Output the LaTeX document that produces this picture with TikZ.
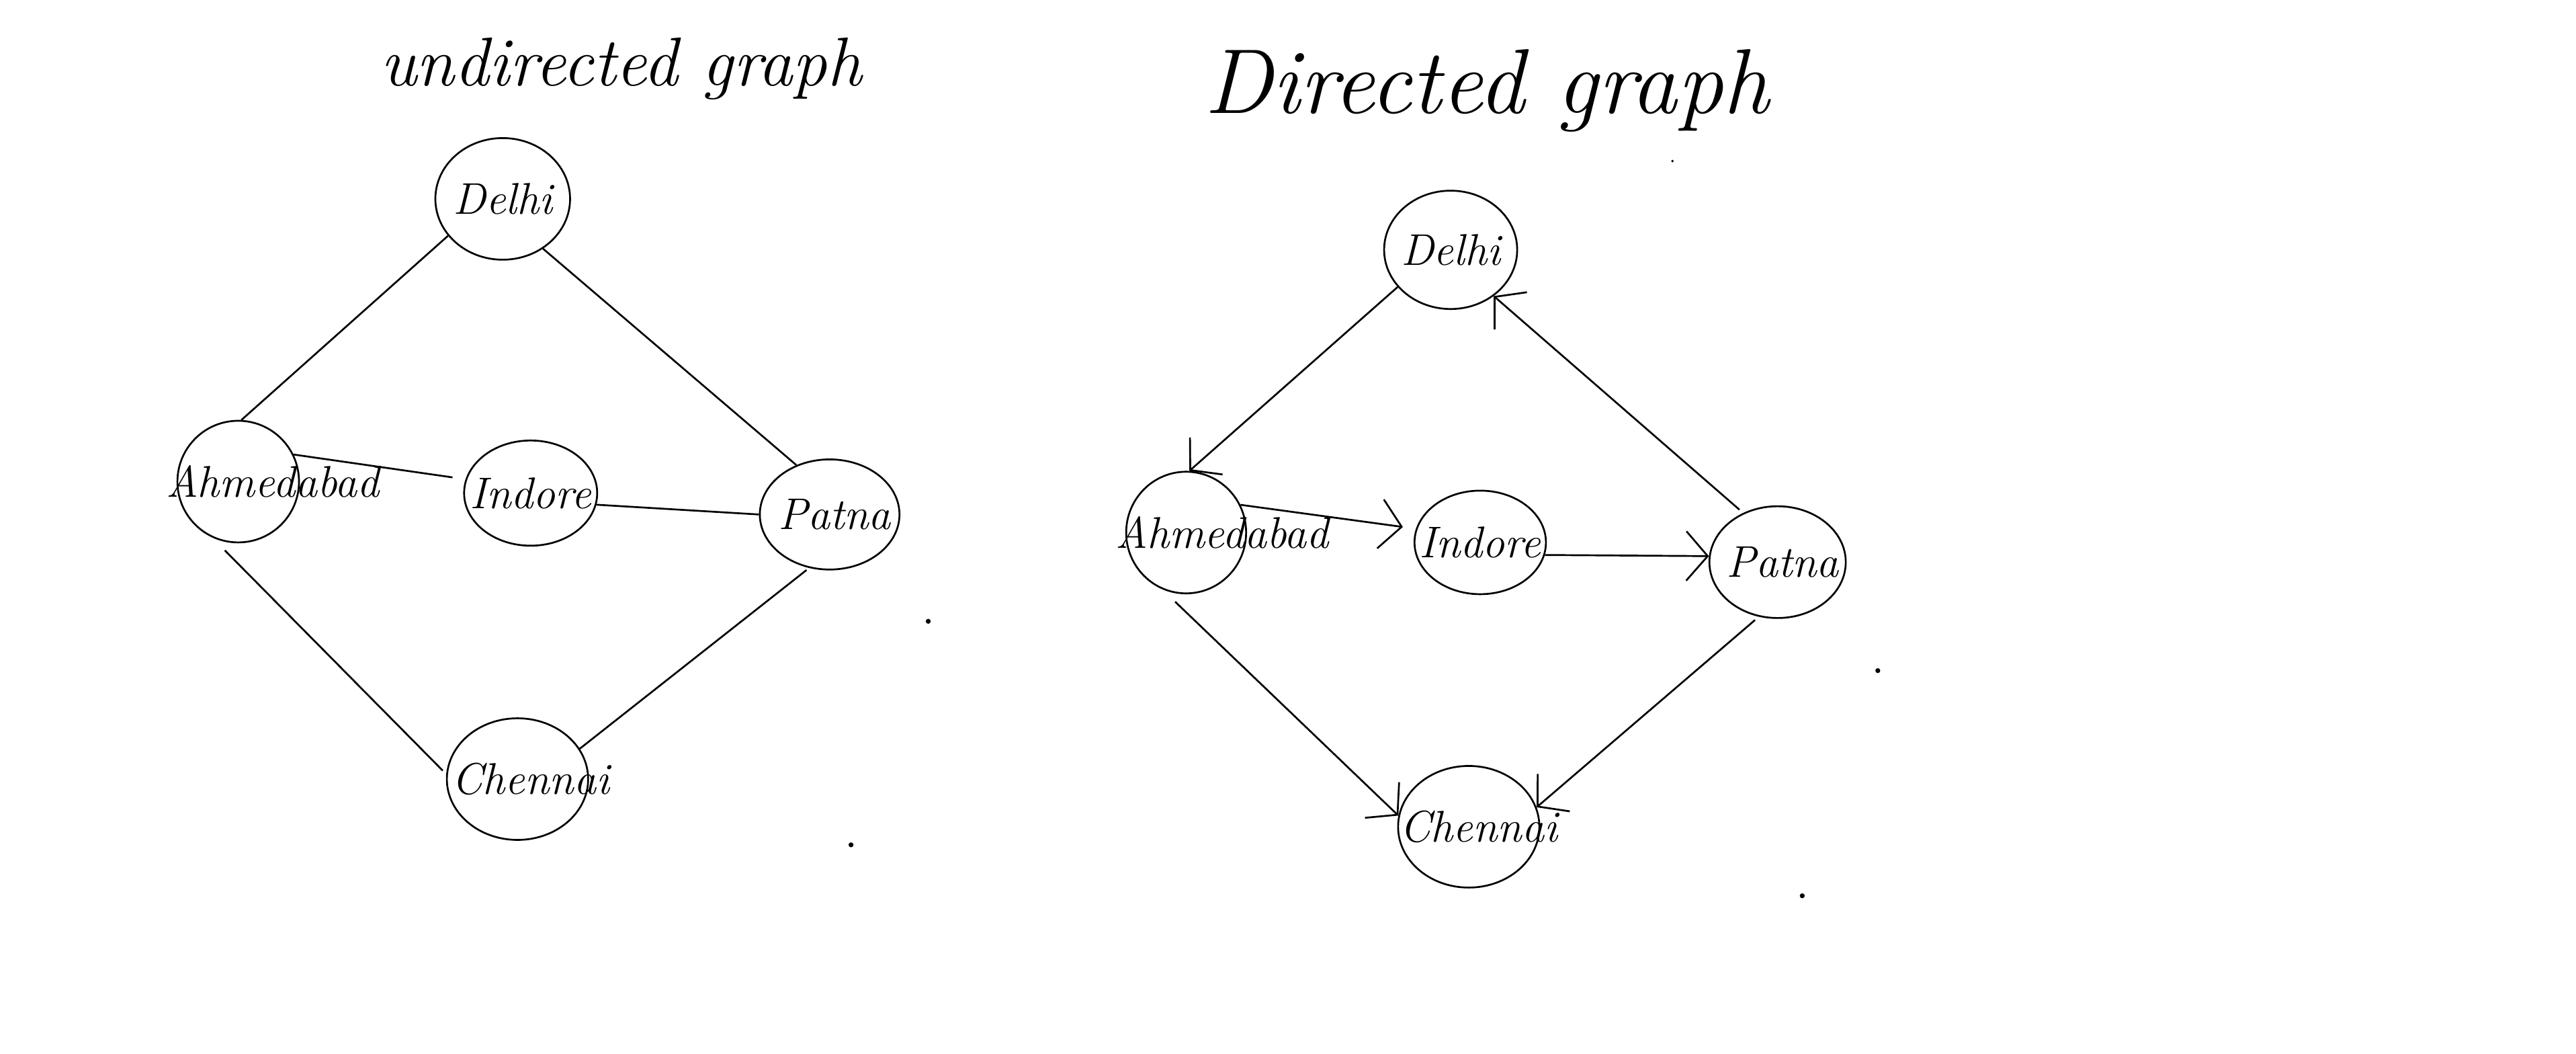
\documentclass[tikz,border=0pt]{standalone}
\usetikzlibrary{shapes.geometric,arrows.meta}
\begin{document}
\begin{tikzpicture}[x=1pt,y=-1pt,
  city/.style={draw, ellipse, line width=1.1pt, inner sep=0pt},
  lbl/.style={font=\fontsize{27}{30}\selectfont\itshape, inner sep=0pt},
  edge/.style={line width=1.1pt},
  arr/.style={line width=1.1pt, -{Straight Barb[length=13pt,width=30pt,line width=1.1pt]}},
  ttl/.style={inner sep=0pt}]
\fill[white] (0,0) rectangle (1568,641);
\useasboundingbox (0,0) rectangle (1568,641);

% titles
\node[ttl, font=\fontsize{42}{48}\selectfont\itshape] (t1) at (378,42) {undirected graph};
\node[ttl, font=\fontsize{56}{62}\selectfont\itshape] (t2) at (905,55) {Directed graph};

% undirected graph
\node[city, minimum width=82, minimum height=74, label={[lbl]center:Delhi}] (d1) at (306,121) {};
\node[city, minimum width=74, minimum height=74, label={[lbl, xshift=21pt]center:Ahmedabad}] (a1) at (145,293) {};
\node[city, minimum width=81, minimum height=64, label={[lbl]center:Indore}] (i1) at (323,300) {};
\node[city, minimum width=85, minimum height=67, label={[lbl, xshift=3pt]center:Patna}] (p1) at (505,313) {};
\node[city, minimum width=86, minimum height=74, label={[lbl, xshift=8pt]center:Chennai}] (c1) at (315,474) {};

\draw[edge] (d1.214) -- (a1.87);
\draw[edge] (d1.309) -- (p1.124);
\draw[edge, shorten >=8pt] (a1.26) -- (i1.168);
\draw[edge] (i1.350) -- (p1.180);
\draw[edge, shorten <=11pt, shorten >=3pt] (a1.245) -- (c1.176);
\draw[edge, shorten <=2pt] (p1.249) -- (c1.26);

% directed graph
\node[city, minimum width=81, minimum height=72, label={[lbl]center:Delhi}] (d2) at (883,152) {};
\node[city, minimum width=73, minimum height=74, label={[lbl, xshift=22pt]center:Ahmedabad}] (a2) at (722,324) {};
\node[city, minimum width=80, minimum height=63, label={[lbl]center:Indore}] (i2) at (901,330) {};
\node[city, minimum width=83, minimum height=68, label={[lbl, xshift=3pt]center:Patna}] (p2) at (1082,342) {};
\node[city, minimum width=86, minimum height=74, label={[lbl, xshift=6pt]center:Chennai}] (c2) at (894,503) {};

\draw[arr] (d2.215) -- (a2.87);
\draw[arr, shorten <=3pt] (p2.125) -- (d2.313);
\draw[arr, shorten >=8pt] (a2.27) -- (i2.168);
\draw[arr] (i2.349) -- (p2.175);
\draw[arr, shorten <=11pt] (a2.247) -- (c2.171);
\draw[arr, shorten <=3pt] (p2.251) -- (c2.16);

% stray dots
\fill (565,378) circle (1.5);
\fill (518,514) circle (1.5);
\fill (1143,408) circle (1.5);
\fill (1097,545) circle (1.5);
\fill (1018,98) circle (0.8);
\end{tikzpicture}
\end{document}
